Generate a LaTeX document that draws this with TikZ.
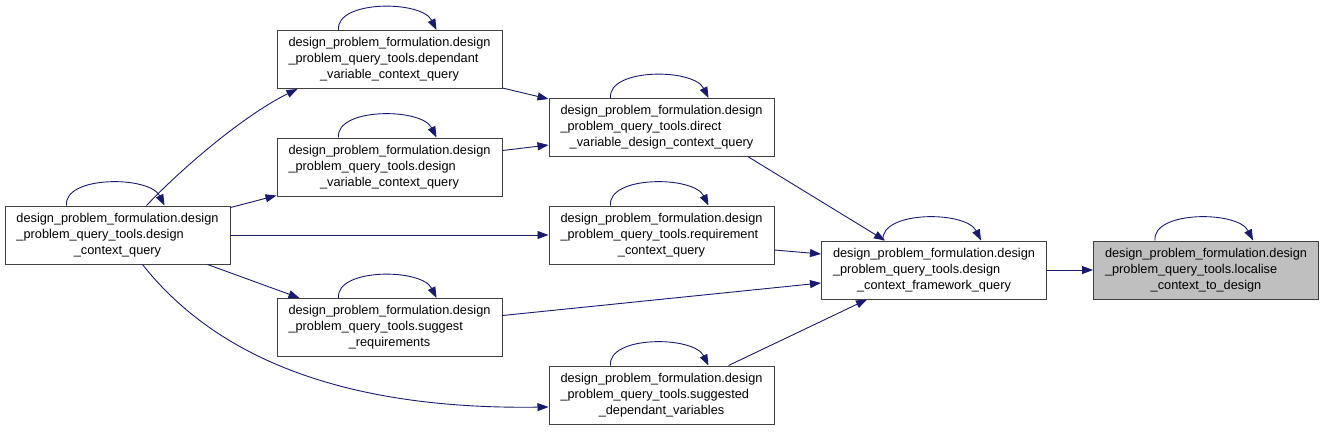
\documentclass[tikz,border=0pt]{standalone}
\usepackage{fontspec}
\newfontfamily\graphfont{Liberation Sans}
\usepackage{tikz}
\usetikzlibrary{arrows.meta,calc}
\definecolor{edgeblue}{HTML}{191970}
\definecolor{nodegray}{HTML}{BFBFBF}
\newcommand{\calllabel}[3]{\raisebox{-2pt}{\begin{tabular}{@{}l@{}}#1\\#2\\\multicolumn{1}{@{}c@{}}{#3}\end{tabular}}}
\tikzset{
  fnbox/.style={draw=black!75, line width=1pt, fill=white, minimum width=225pt, minimum height=58pt, inner sep=0pt, font=\graphfont\fontsize{12.75}{16}\selectfont},
  curbox/.style={fnbox, fill=nodegray},
  call/.style={draw=edgeblue, line width=0.9pt, -{Triangle[length=11pt,width=8pt]}}
}

\begin{document}
\begin{tikzpicture}[x=1pt,y=-1pt]
\useasboundingbox (0,0) rectangle (1324,431);

\node[fnbox] (ctx) at (117.5,235) {\calllabel{design\_problem\_formulation.design}{\_problem\_query\_tools.design}{\_context\_query}};
\node[fnbox] (depvar) at (389.5,59.5) {\calllabel{design\_problem\_formulation.design}{\_problem\_query\_tools.dependant}{\_variable\_context\_query}};
\node[fnbox] (desvar) at (389.5,167) {\calllabel{design\_problem\_formulation.design}{\_problem\_query\_tools.design}{\_variable\_context\_query}};
\node[fnbox] (sugreq) at (389.5,327.5) {\calllabel{design\_problem\_formulation.design}{\_problem\_query\_tools.suggest}{\_requirements}};
\node[fnbox] (dirvar) at (661.5,127.5) {\calllabel{design\_problem\_formulation.design}{\_problem\_query\_tools.direct}{\_variable\_design\_context\_query}};
\node[fnbox] (reqctx) at (661.5,235) {\calllabel{design\_problem\_formulation.design}{\_problem\_query\_tools.requirement}{\_context\_query}};
\node[fnbox] (sugdep) at (661.5,395) {\calllabel{design\_problem\_formulation.design}{\_problem\_query\_tools.suggested}{\_dependant\_variables}};
\node[fnbox] (frame) at (934,270) {\calllabel{design\_problem\_formulation.design}{\_problem\_query\_tools.design}{\_context\_framework\_query}};
\node[curbox] (local) at (1206,270) {\calllabel{design\_problem\_formulation.design}{\_problem\_query\_tools.localise}{\_context\_to\_design}};

% self calls
\foreach \n in {ctx,depvar,desvar,sugreq,dirvar,reqctx,sugdep,frame,local}
  \draw[call] ($(\n.north west)+(62,0)$) .. controls +(-3,-30) and +(-15,-30) .. ($(\n.north west)+(160,0)$);

% calls from design_context_query
\draw[call] ($(ctx.north west)+(142,0)$) .. controls (190,160) and (250,112) .. ($(depvar.south west)+(21,0)$);
\draw[call] ($(ctx.north east)+(0,2)$) -- ($(desvar.south west)+(0,-1)$);
\draw[call] (ctx.east) -- (ctx.east -| reqctx.west);
\draw[call] ($(ctx.south east)+(-23,0)$) -- ($(sugreq.north west)+(23,0)$);
\draw[call] ($(ctx.south west)+(138,0)$) .. controls (210,350) and (330,410) .. ($(sugdep.west)+(0,12)$);

% into direct_variable_design_context_query
\draw[call] ($(depvar.south east)+(0,-1)$) -- ($(dirvar.north west)+(0,1)$);
\draw[call] ($(desvar.north east)+(0,13)$) -- ($(dirvar.south west)+(0,-12)$);

% into design_context_framework_query
\draw[call] ($(dirvar.south east)+(-26,0)$) -- ($(frame.north west)+(64,0)$);
\draw[call] ($(reqctx.east)+(0,15)$) -- ($(frame.west)+(0,-16)$);
\draw[call] ($(sugreq.east)+(0,-12)$) -- ($(frame.west)+(0,13)$);
\draw[call] ($(sugdep.north east)+(-46,0)$) -- ($(frame.south west)+(46,0)$);

\draw[call] (frame) -- (local);
\end{tikzpicture}
\end{document}
